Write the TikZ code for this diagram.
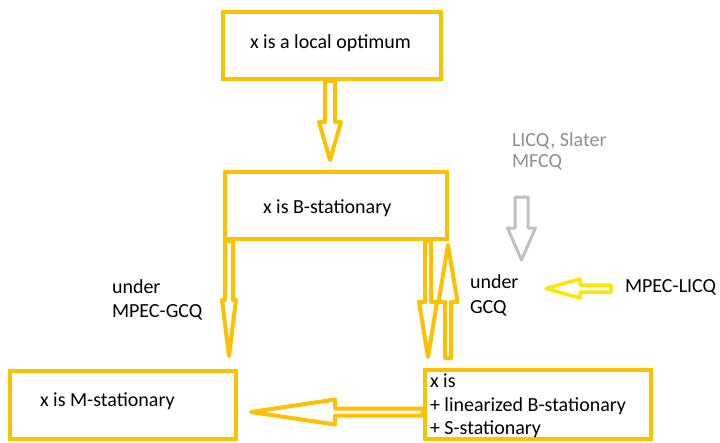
\documentclass[tikz,border=0pt]{standalone}
\usepackage{fontspec}
\setmainfont{Carlito}
\usetikzlibrary{calc}

\definecolor{gold}{HTML}{FFC000}
\definecolor{lemon}{HTML}{FFE600}
\definecolor{silver}{HTML}{C0C0C0}
\definecolor{note}{HTML}{8E8E8E}

% Outlined block arrow from #1 to #2: shaft half-width #3,
% head half-width #4, head length #5, drawing style #6.
\newcommand\blockarrow[6]{%
  \coordinate (ba-h) at ($(#2)!#5!(#1)$);
  \draw[#6]
    ($(#1)!#3!90:(#2)$) -- ($(ba-h)!#3!90:(#2)$) -- ($(ba-h)!#4!90:(#2)$)
    -- (#2)
    -- ($(ba-h)!#4!-90:(#2)$) -- ($(ba-h)!#3!-90:(#2)$) -- ($(#1)!#3!-90:(#2)$)
    -- cycle;
}

\begin{document}
\begin{tikzpicture}[x=1pt, y=-1pt,
  box/.style={draw=gold, line width=4pt, rectangle, inner sep=0pt},
  txt/.style={font=\fontsize{20}{24}\selectfont, inner sep=0pt, outer sep=0pt, anchor=base west},
  goldarrow/.style={draw=gold, line width=4pt, fill=white, line join=round},
  lemonarrow/.style={draw=lemon, line width=3.5pt, fill=white, line join=round},
  greyarrow/.style={draw=silver, line width=3pt, fill=white, line join=round}]

  \useasboundingbox (0,0) rectangle (720,442);

  % boxes
  \node[box, minimum width=218pt, minimum height=67pt] (top) at (332,45.5) {};
  \node[box, minimum width=222pt, minimum height=67pt] (mid) at (336,205.5) {};
  \node[box, minimum width=226pt, minimum height=68pt] (mbox) at (122.5,405) {};
  \node[box, minimum width=226pt, minimum height=69pt] (rbox) at (537.5,404.5) {};

  % box texts
  \node[txt] (toptext) at (250,48) {x is a local optimum};
  \node[txt] (midtext) at (263,213) {x is B-stationary};
  \node[txt] (mtext) at (40,406) {x is M-stationary};
  \node[txt] (r1) at (430,387) {x is};
  \node[txt] (r2) at (430,411) {+ linearized B-stationary};
  \node[txt] (r3) at (430,434) {+ S-stationary};

  % condition labels
  \node[txt] (la1) at (112,293) {under};
  \node[txt] (la2) at (112,317) {MPEC-GCQ};
  \node[txt] (lb1) at (470,288) {under};
  \node[txt] (lb2) at (470,313) {GCQ};
  \node[txt] (licq) at (625,292) {MPEC-LICQ};
  \node[txt, text=note] (cq1) at (512,146) {LICQ, Slater};
  \node[txt, text=note] (cq2) at (512,167) {MFCQ};

  % local optimum => B-stationary
  \coordinate (a1e) at (330,160);
  \coordinate (a1s) at (top.south -| a1e);
  \blockarrow{a1s}{a1e}{5pt}{11pt}{38pt}{goldarrow}

  % B-stationary => M-stationary
  \coordinate (a2e) at (229,356);
  \coordinate (a2s) at (mid.south -| a2e);
  \blockarrow{a2s}{a2e}{4pt}{7pt}{56pt}{goldarrow}

  % B-stationary => linearized B- / S-stationary
  \coordinate (a3e) at (428,357);
  \coordinate (a3s) at (mid.south -| a3e);
  \blockarrow{a3s}{a3e}{3pt}{9pt}{55pt}{goldarrow}

  % back implication under GCQ
  \coordinate (a4s) at (448,358);
  \coordinate (a4e) at ($(mid.south -| a4s)+(0,4)$);
  \blockarrow{a4s}{a4e}{3pt}{9.5pt}{57pt}{goldarrow}

  % S-stationary => M-stationary
  \coordinate (a5e) at (251,412);
  \coordinate (a5s) at (rbox.west |- a5e);
  \blockarrow{a5s}{a5e}{3.5pt}{12.5pt}{84pt}{goldarrow}

  % MPEC-LICQ implies GCQ
  \coordinate (a6e) at (546,288.5);
  \coordinate (a6s) at (611,288.5);
  \blockarrow{a6s}{a6e}{3.5pt}{9.5pt}{34pt}{lemonarrow}

  % standard constraint qualifications imply GCQ
  \coordinate (a7s) at (521.5,197);
  \coordinate (a7e) at (521.5,260);
  \blockarrow{a7s}{a7e}{6.5pt}{14pt}{32pt}{greyarrow}
\end{tikzpicture}
\end{document}
